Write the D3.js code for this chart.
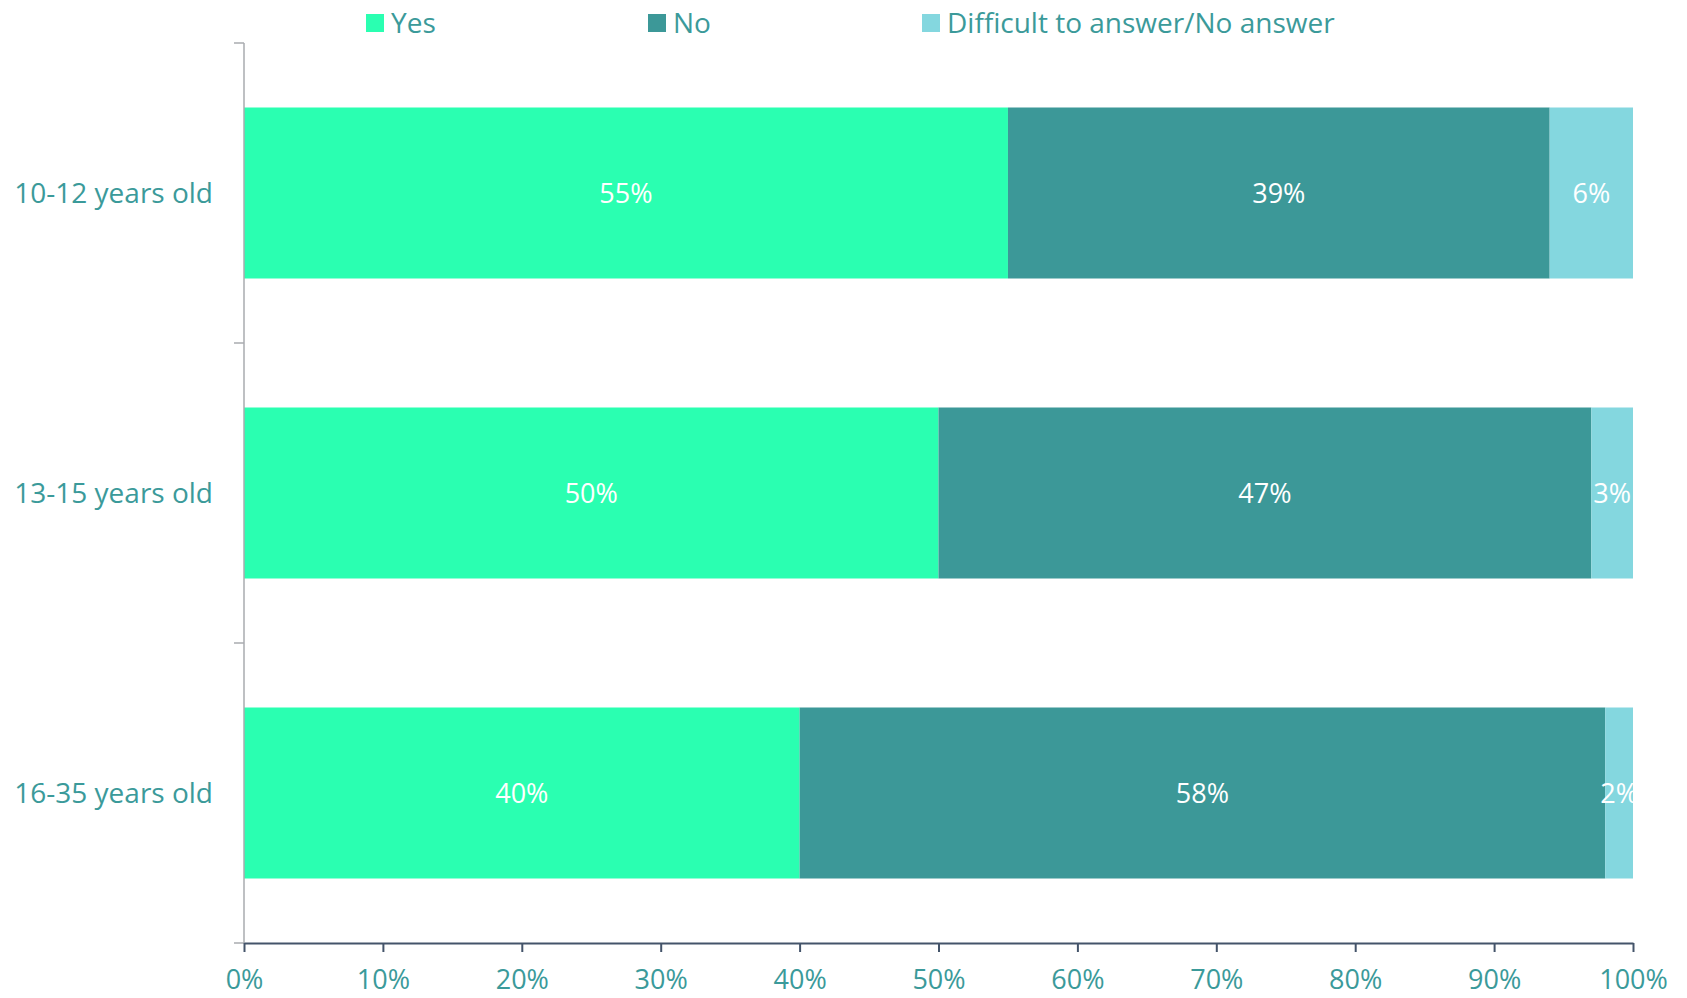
<!DOCTYPE html>
<html>
<head>
<meta charset="utf-8">
<script src="https://cdn.jsdelivr.net/npm/d3@7"></script>
<style>
  html, body { margin: 0; padding: 0; background: #fff; }
  svg { display: block; font-family: "Open Sans", sans-serif; }
</style>
</head>
<body>
<div id="chart"></div>
<script>
const W = 1687, H = 998;

// data
const groups = ["10-12 years old", "13-15 years old", "16-35 years old"];
const series = ["Yes", "No", "Difficult to answer/No answer"];
const yes = [55, 50, 40];
const no = [39, 47, 58];
const dunno = [6, 3, 2];
const xTicks = [0, 10, 20, 30, 40, 50, 60, 70, 80, 90, 100];

const colors = ["#2affb1", "#3c9898", "#84d7df"];
const textCol = "#3b9a9a";

const rows = groups.map((g, i) => ({group: g, Yes: yes[i], No: no[i], "Difficult to answer/No answer": dunno[i]}));
const stacked = d3.stack().keys(series)(rows);

const m = {l: 244, r: W - 1633, t: 43, b: H - 943};

const x = d3.scaleLinear().domain([0, 100]).range([m.l, W - m.r]);
const y = d3.scaleBand().domain(groups).range([m.t, H - m.b])
  .paddingInner(0.43).paddingOuter(0.215);
const color = d3.scaleOrdinal().domain(series).range(colors);

const svg = d3.select("#chart").append("svg")
  .attr("width", W).attr("height", H).attr("viewBox", `0 0 ${W} ${H}`);

// bars
const layers = svg.append("g")
  .selectAll("g")
  .data(stacked)
  .join("g")
  .attr("fill", d => color(d.key));

layers.selectAll("rect")
  .data(d => d)
  .join("rect")
  .attr("x", d => x(d[0]))
  .attr("y", d => y(d.data.group))
  .attr("width", d => x(d[1]) - x(d[0]))
  .attr("height", y.bandwidth());

// bar labels
layers.selectAll("text")
  .data(d => d.map(v => ({v, key: d.key})))
  .join("text")
  .attr("x", d => (x(d.v[0]) + x(d.v[1])) / 2)
  .attr("y", d => y(d.v.data.group) + y.bandwidth() / 2)
  .attr("dy", "0.36em")
  .attr("text-anchor", "middle")
  .attr("fill", "#fff")
  .attr("font-size", "27px")
  .text(d => d.v.data[d.key] + "%");

// y axis (category) line + ticks at band boundaries
const bounds = groups.map(g => y(g) - y.step() * y.paddingOuter()).concat([H - m.b]);
svg.append("line")
  .attr("x1", m.l).attr("x2", m.l)
  .attr("y1", m.t).attr("y2", H - m.b)
  .attr("stroke", "#a9abaf").attr("stroke-width", 1.5);
svg.append("g").selectAll("line")
  .data(bounds)
  .join("line")
  .attr("x1", m.l - 10).attr("x2", m.l)
  .attr("y1", d => d).attr("y2", d => d)
  .attr("stroke", "#a9abaf").attr("stroke-width", 1.5);

svg.append("g").selectAll("text")
  .data(groups)
  .join("text")
  .attr("x", 213)
  .attr("y", d => y(d) + y.bandwidth() / 2)
  .attr("dy", "0.36em")
  .attr("text-anchor", "end")
  .attr("fill", textCol)
  .attr("font-size", "28px")
  .text(d => d);

// x axis
const xAxis = svg.append("g")
  .attr("transform", `translate(0,${H - m.b})`)
  .call(d3.axisBottom(x).tickValues(xTicks).tickSize(9).tickSizeOuter(0).tickFormat(d => d + "%"));
xAxis.select(".domain").attr("stroke", "#44546a").attr("stroke-width", 2);
xAxis.selectAll(".tick line").attr("stroke", "#44546a").attr("stroke-width", 2);
xAxis.selectAll(".tick text")
  .attr("fill", textCol)
  .attr("font-size", "27px")
  .attr("font-family", "Open Sans, sans-serif")
  .attr("y", 27)
  .attr("dy", "0.71em");

// legend
const legendX = [366, 648, 922];
const legend = svg.append("g").selectAll("g")
  .data(series)
  .join("g")
  .attr("transform", (d, i) => `translate(${legendX[i]},14)`);
legend.append("rect")
  .attr("width", 18).attr("height", 18)
  .attr("fill", d => color(d));
legend.append("text")
  .attr("x", 25).attr("y", 9)
  .attr("dy", "0.36em")
  .attr("fill", textCol)
  .attr("font-size", "28px")
  .text(d => d);
</script>
</body>
</html>
